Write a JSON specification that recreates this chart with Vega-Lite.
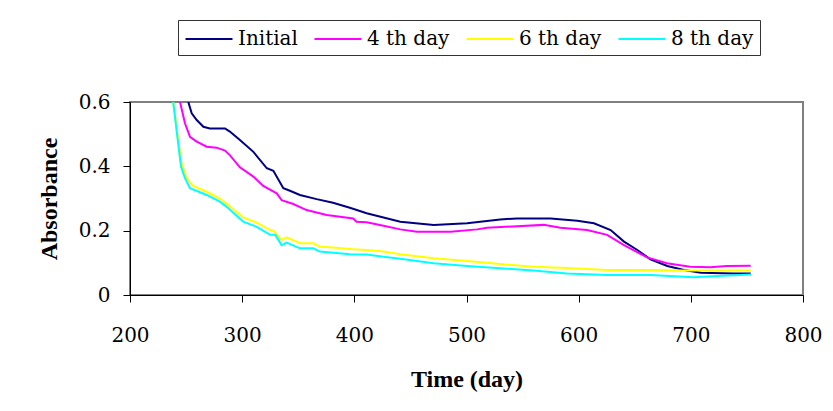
{
  "$schema": "https://vega.github.io/schema/vega-lite/v6.json",
  "width": 673,
  "height": 193,
  "autosize": "none",
  "padding": {"left": 130, "top": 102, "right": 30, "bottom": 116},
  "background": "white",
  "config": {
    "view": {"stroke": "#808080", "strokeWidth": 2},
    "axis": {
      "grid": false,
      "labelFont": "DejaVu Serif",
      "labelFontSize": 20,
      "labelColor": "black",
      "labelFlush": false,
      "labelOverlap": false,
      "titleFont": "Liberation Serif",
      "titleFontSize": 24,
      "titleFontWeight": "bold",
      "titleColor": "black",
      "domainColor": "black",
      "domainWidth": 1,
      "tickColor": "black",
      "tickSize": 7
    }
  },
  "data": {
    "values": [
      {"series": "Initial", "day": 248, "abs": 0.70},
      {"series": "Initial", "day": 252, "abs": 0.60},
      {"series": "Initial", "day": 255, "abs": 0.565},
      {"series": "Initial", "day": 259.5, "abs": 0.544},
      {"series": "Initial", "day": 265.4, "abs": 0.523},
      {"series": "Initial", "day": 271.3, "abs": 0.518},
      {"series": "Initial", "day": 284.7, "abs": 0.518},
      {"series": "Initial", "day": 289, "abs": 0.508},
      {"series": "Initial", "day": 298, "abs": 0.482},
      {"series": "Initial", "day": 310, "abs": 0.445},
      {"series": "Initial", "day": 322, "abs": 0.394},
      {"series": "Initial", "day": 327.8, "abs": 0.386},
      {"series": "Initial", "day": 336.7, "abs": 0.332},
      {"series": "Initial", "day": 342.6, "abs": 0.324},
      {"series": "Initial", "day": 351.5, "abs": 0.311},
      {"series": "Initial", "day": 366.4, "abs": 0.298},
      {"series": "Initial", "day": 381, "abs": 0.287},
      {"series": "Initial", "day": 396, "abs": 0.271},
      {"series": "Initial", "day": 411, "abs": 0.254},
      {"series": "Initial", "day": 426, "abs": 0.241},
      {"series": "Initial", "day": 441, "abs": 0.228},
      {"series": "Initial", "day": 470.8, "abs": 0.218},
      {"series": "Initial", "day": 500.5, "abs": 0.223},
      {"series": "Initial", "day": 530, "abs": 0.235},
      {"series": "Initial", "day": 545, "abs": 0.238},
      {"series": "Initial", "day": 575, "abs": 0.238},
      {"series": "Initial", "day": 598.8, "abs": 0.231},
      {"series": "Initial", "day": 613.6, "abs": 0.223},
      {"series": "Initial", "day": 628.5, "abs": 0.202},
      {"series": "Initial", "day": 640.4, "abs": 0.166},
      {"series": "Initial", "day": 652.3, "abs": 0.140},
      {"series": "Initial", "day": 664, "abs": 0.111},
      {"series": "Initial", "day": 679, "abs": 0.090},
      {"series": "Initial", "day": 694, "abs": 0.078},
      {"series": "Initial", "day": 709, "abs": 0.069},
      {"series": "Initial", "day": 738.5, "abs": 0.067},
      {"series": "Initial", "day": 753.4, "abs": 0.067},

      {"series": "4 th day", "day": 239, "abs": 0.70},
      {"series": "4 th day", "day": 244.6, "abs": 0.60},
      {"series": "4 th day", "day": 249, "abs": 0.534},
      {"series": "4 th day", "day": 253.5, "abs": 0.492},
      {"series": "4 th day", "day": 259.5, "abs": 0.477},
      {"series": "4 th day", "day": 268.4, "abs": 0.461},
      {"series": "4 th day", "day": 277.3, "abs": 0.458},
      {"series": "4 th day", "day": 284.7, "abs": 0.449},
      {"series": "4 th day", "day": 289, "abs": 0.435},
      {"series": "4 th day", "day": 298, "abs": 0.397},
      {"series": "4 th day", "day": 310, "abs": 0.368},
      {"series": "4 th day", "day": 318.8, "abs": 0.339},
      {"series": "4 th day", "day": 330.8, "abs": 0.316},
      {"series": "4 th day", "day": 335.2, "abs": 0.295},
      {"series": "4 th day", "day": 345.6, "abs": 0.283},
      {"series": "4 th day", "day": 357.5, "abs": 0.264},
      {"series": "4 th day", "day": 375.4, "abs": 0.249},
      {"series": "4 th day", "day": 399, "abs": 0.238},
      {"series": "4 th day", "day": 402, "abs": 0.228},
      {"series": "4 th day", "day": 411, "abs": 0.226},
      {"series": "4 th day", "day": 426, "abs": 0.215},
      {"series": "4 th day", "day": 441, "abs": 0.204},
      {"series": "4 th day", "day": 456, "abs": 0.197},
      {"series": "4 th day", "day": 485.7, "abs": 0.197},
      {"series": "4 th day", "day": 509.5, "abs": 0.204},
      {"series": "4 th day", "day": 518.4, "abs": 0.209},
      {"series": "4 th day", "day": 545, "abs": 0.214},
      {"series": "4 th day", "day": 568.9, "abs": 0.218},
      {"series": "4 th day", "day": 583.8, "abs": 0.209},
      {"series": "4 th day", "day": 607.5, "abs": 0.202},
      {"series": "4 th day", "day": 625.4, "abs": 0.187},
      {"series": "4 th day", "day": 640.4, "abs": 0.155},
      {"series": "4 th day", "day": 661, "abs": 0.117},
      {"series": "4 th day", "day": 678.7, "abs": 0.099},
      {"series": "4 th day", "day": 699.4, "abs": 0.088},
      {"series": "4 th day", "day": 717.3, "abs": 0.086},
      {"series": "4 th day", "day": 732, "abs": 0.090},
      {"series": "4 th day", "day": 753.4, "abs": 0.091},

      {"series": "6 th day", "day": 235, "abs": 0.70},
      {"series": "6 th day", "day": 238.6, "abs": 0.60},
      {"series": "6 th day", "day": 242.2, "abs": 0.503},
      {"series": "6 th day", "day": 246, "abs": 0.409},
      {"series": "6 th day", "day": 250.5, "abs": 0.363},
      {"series": "6 th day", "day": 256.4, "abs": 0.339},
      {"series": "6 th day", "day": 268.4, "abs": 0.321},
      {"series": "6 th day", "day": 280.2, "abs": 0.300},
      {"series": "6 th day", "day": 287.7, "abs": 0.280},
      {"series": "6 th day", "day": 301, "abs": 0.241},
      {"series": "6 th day", "day": 313, "abs": 0.225},
      {"series": "6 th day", "day": 325, "abs": 0.202},
      {"series": "6 th day", "day": 327.8, "abs": 0.200},
      {"series": "6 th day", "day": 335.2, "abs": 0.171},
      {"series": "6 th day", "day": 339.7, "abs": 0.179},
      {"series": "6 th day", "day": 351.5, "abs": 0.161},
      {"series": "6 th day", "day": 363.4, "abs": 0.161},
      {"series": "6 th day", "day": 369.3, "abs": 0.150},
      {"series": "6 th day", "day": 381, "abs": 0.148},
      {"series": "6 th day", "day": 399, "abs": 0.142},
      {"series": "6 th day", "day": 411, "abs": 0.140},
      {"series": "6 th day", "day": 426, "abs": 0.135},
      {"series": "6 th day", "day": 441, "abs": 0.127},
      {"series": "6 th day", "day": 470.8, "abs": 0.114},
      {"series": "6 th day", "day": 500.5, "abs": 0.106},
      {"series": "6 th day", "day": 530, "abs": 0.096},
      {"series": "6 th day", "day": 559.8, "abs": 0.088},
      {"series": "6 th day", "day": 589.5, "abs": 0.084},
      {"series": "6 th day", "day": 625.4, "abs": 0.078},
      {"series": "6 th day", "day": 664, "abs": 0.078},
      {"series": "6 th day", "day": 694, "abs": 0.076},
      {"series": "6 th day", "day": 723.7, "abs": 0.076},
      {"series": "6 th day", "day": 753.4, "abs": 0.076},

      {"series": "8 th day", "day": 235, "abs": 0.70},
      {"series": "8 th day", "day": 238.5, "abs": 0.60},
      {"series": "8 th day", "day": 242.2, "abs": 0.492},
      {"series": "8 th day", "day": 245.5, "abs": 0.399},
      {"series": "8 th day", "day": 249, "abs": 0.363},
      {"series": "8 th day", "day": 253.5, "abs": 0.332},
      {"series": "8 th day", "day": 268.4, "abs": 0.311},
      {"series": "8 th day", "day": 280.2, "abs": 0.290},
      {"series": "8 th day", "day": 287.7, "abs": 0.270},
      {"series": "8 th day", "day": 301, "abs": 0.228},
      {"series": "8 th day", "day": 313, "abs": 0.212},
      {"series": "8 th day", "day": 325, "abs": 0.187},
      {"series": "8 th day", "day": 329.5, "abs": 0.187},
      {"series": "8 th day", "day": 335.2, "abs": 0.155},
      {"series": "8 th day", "day": 339.7, "abs": 0.163},
      {"series": "8 th day", "day": 351.5, "abs": 0.145},
      {"series": "8 th day", "day": 363.4, "abs": 0.145},
      {"series": "8 th day", "day": 369.3, "abs": 0.135},
      {"series": "8 th day", "day": 396, "abs": 0.127},
      {"series": "8 th day", "day": 411, "abs": 0.126},
      {"series": "8 th day", "day": 426, "abs": 0.119},
      {"series": "8 th day", "day": 441, "abs": 0.113},
      {"series": "8 th day", "day": 470.8, "abs": 0.099},
      {"series": "8 th day", "day": 500.5, "abs": 0.090},
      {"series": "8 th day", "day": 530, "abs": 0.083},
      {"series": "8 th day", "day": 559.8, "abs": 0.076},
      {"series": "8 th day", "day": 589.5, "abs": 0.067},
      {"series": "8 th day", "day": 625.4, "abs": 0.062},
      {"series": "8 th day", "day": 664, "abs": 0.062},
      {"series": "8 th day", "day": 702.3, "abs": 0.055},
      {"series": "8 th day", "day": 723.7, "abs": 0.059},
      {"series": "8 th day", "day": 753.4, "abs": 0.064}
    ]
  },
  "mark": {"type": "line", "clip": true, "strokeWidth": 2},
  "encoding": {
    "x": {
      "field": "day",
      "type": "quantitative",
      "scale": {"domain": [200, 800], "nice": false, "zero": false},
      "axis": {
        "title": "Time (day)",
        "values": [200, 300, 400, 500, 600, 700, 800],
        "labelPadding": 23,
        "titlePadding": 22
      }
    },
    "y": {
      "field": "abs",
      "type": "quantitative",
      "scale": {"domain": [0, 0.6], "nice": false},
      "axis": {
        "title": "Absorbance",
        "values": [0, 0.2, 0.4, 0.6],
        "format": ".1~f",
        "labelPadding": 13,
        "titlePadding": 17
      }
    },
    "color": {
      "field": "series",
      "type": "nominal",
      "scale": {
        "domain": ["Initial", "4 th day", "6 th day", "8 th day"],
        "range": ["#000080", "#FF00FF", "#FFFF00", "#00FFFF"]
      },
      "legend": {
        "title": null,
        "orient": "none",
        "legendX": 48,
        "legendY": -82,
        "direction": "horizontal",
        "symbolType": "M-2,0H2",
        "symbolSize": 552,
        "symbolStrokeWidth": 2,
        "symbolOffset": 12,
        "labelFont": "DejaVu Serif",
        "labelFontSize": 20,
        "labelColor": "black",
        "labelOffset": 16,
        "columnPadding": 12,
        "padding": 6,
        "strokeColor": "#333333"
      }
    }
  }
}
